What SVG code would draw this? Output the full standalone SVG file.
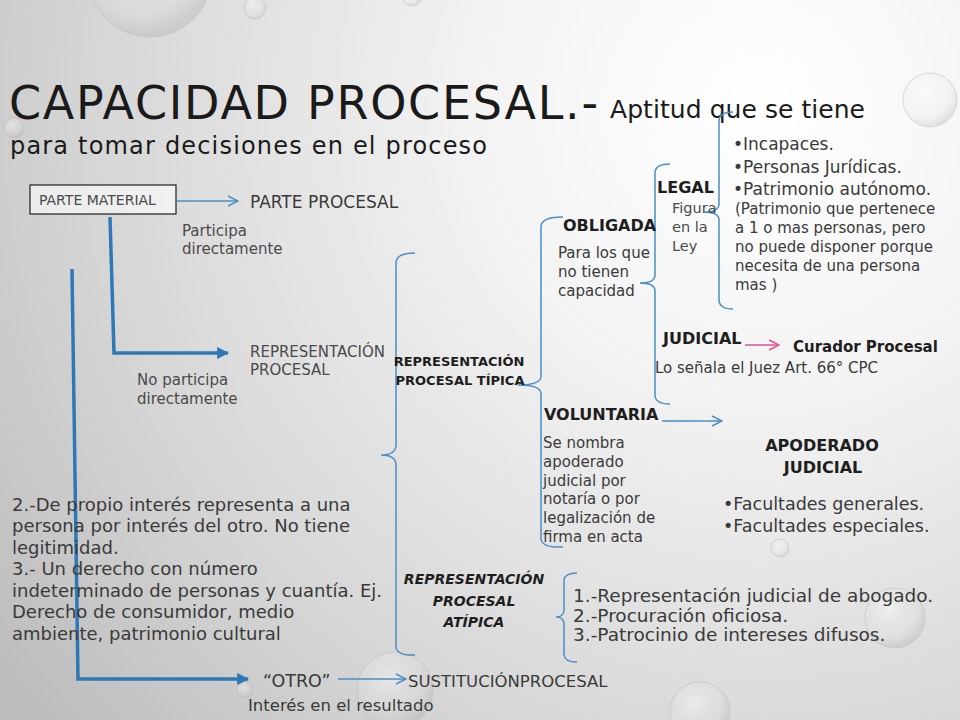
<svg xmlns="http://www.w3.org/2000/svg" width="960" height="720" viewBox="0 0 960 720">
<defs>
  <radialGradient id="bg" gradientUnits="userSpaceOnUse" cx="760" cy="110" r="950">
    <stop offset="0" stop-color="#ffffff"/>
    <stop offset="0.3" stop-color="#f3f3f3"/>
    <stop offset="0.7" stop-color="#d6d6d6"/>
    <stop offset="1" stop-color="#bcbcbc"/>
  </radialGradient>
  <radialGradient id="drop" cx="0.4" cy="0.35" r="0.65">
    <stop offset="0" stop-color="#ffffff" stop-opacity="0.8"/>
    <stop offset="0.7" stop-color="#e6e6e6" stop-opacity="0.35"/>
    <stop offset="1" stop-color="#9a9a9a" stop-opacity="0.45"/>
  </radialGradient>
  <marker id="open" viewBox="0 0 12 12" refX="11" refY="6" markerWidth="12" markerHeight="12" markerUnits="userSpaceOnUse" orient="auto">
    <path d="M1,1 L11,6 L1,11" fill="none" stroke="#4a8fc6" stroke-width="1.4"/>
  </marker>
  <marker id="openpink" viewBox="0 0 12 12" refX="11" refY="6" markerWidth="12" markerHeight="12" markerUnits="userSpaceOnUse" orient="auto">
    <path d="M1,1 L11,6 L1,11" fill="none" stroke="#e5508c" stroke-width="1.4"/>
  </marker>
  <marker id="solid" viewBox="0 0 10 10" refX="9" refY="5" markerWidth="12" markerHeight="12" markerUnits="userSpaceOnUse" orient="auto">
    <path d="M0,0 L10,5 L0,10 Z" fill="#2f78b8"/>
  </marker>
</defs>
<style>
  .t { font-family: "DejaVu Sans", "Liberation Sans", sans-serif; fill: #3a3a3a; }
  .g { fill: #4a4a4a; }
  .b { font-family: "DejaVu Sans", "Liberation Sans", sans-serif; font-weight: bold; fill: #1e1e1e; }
  .thick { fill: none; stroke: #2f78b8; stroke-width: 3.5; }
  .thin { fill: none; stroke: #4a8fc6; stroke-width: 1.4; }
  .brace { fill: none; stroke: #4a8fc6; stroke-width: 1.5; }
  .drop { fill: url(#drop); stroke: #bdbdbd; stroke-width: 1; }
</style>
<rect width="960" height="720" fill="url(#bg)"/>
<g id="droplets" opacity="0.55">
  <circle class="drop" cx="150" cy="-25" r="62"/>
  <circle class="drop" cx="255" cy="8" r="11"/>
  <circle class="drop" cx="412" cy="-4" r="10"/>
  <circle class="drop" cx="930" cy="100" r="27"/>
  <circle class="drop" cx="14" cy="128" r="10"/>
  <circle class="drop" cx="395" cy="690" r="38"/>
  <circle class="drop" cx="700" cy="712" r="30"/>
  <circle class="drop" cx="895" cy="618" r="30"/>
  <circle class="drop" cx="780" cy="548" r="9"/>
  <circle class="drop" cx="245" cy="690" r="8"/>
</g>
<g id="title">
  <text class="t" x="9" y="119" font-size="46" textLength="589" style="fill:#1a1a1a">CAPACIDAD PROCESAL.-</text>
  <text class="t" x="610" y="118" font-size="25" textLength="255" style="fill:#1a1a1a">Aptitud que se tiene</text>
  <text class="t" x="10" y="154" font-size="24" textLength="477" style="fill:#1a1a1a">para tomar decisiones en el proceso</text>
</g>
<g id="connectors">
  <line class="thin" x1="177" y1="201" x2="238" y2="201" marker-end="url(#open)"/>
  <polyline class="thick" points="110,217 114,353 228,353" marker-end="url(#solid)"/>
  <polyline class="thick" points="72,269 78,679 248,679" marker-end="url(#solid)"/>
  <line class="thin" x1="338" y1="679" x2="406" y2="679" marker-end="url(#open)"/>
  <line class="thin" x1="662" y1="421" x2="722" y2="421" marker-end="url(#open)"/>
  <line x1="745" y1="345" x2="779" y2="345" stroke="#e5508c" stroke-width="1.4" marker-end="url(#openpink)"/>
  <path class="brace" d="M415,253 Q397,253 396,262 L396,446 Q395,455 381,455 Q395,455 396,464 L396,647 Q397,656 415,655"/>
  <path class="brace" d="M563,217 Q542,217 541,226 L541,377 Q540,385 518,385 Q540,385 541,393 L541,539 Q542,548 563,547"/>
  <path class="brace" d="M670,164 Q656,164 655,172 L655,276 Q654,283 640,283 Q654,283 655,290 L655,396 Q656,404 670,404"/>
  <path class="brace" d="M733,112 Q720,112 719,120 L719,205 Q718,212 703,212 Q718,212 719,219 L719,301 Q720,309 733,309"/>
  <path class="brace" d="M577,573 Q565,573 564,580 L564,611 Q563,617 556,617 Q563,617 564,623 L564,655 Q565,662 577,662"/>
</g>
<g id="parte-material">
  <rect x="30" y="185" width="146" height="29" fill="#ffffff" fill-opacity="0.6" stroke="#1e1e1e" stroke-width="1.2"/>
  <text class="t g" x="39" y="205" font-size="14">PARTE MATERIAL</text>
</g>
<g id="parte-procesal">
  <text class="t" x="250" y="208" font-size="17">PARTE PROCESAL</text>
</g>
<g id="participa">
  <text class="t g" x="182" y="236" font-size="15">Participa</text>
  <text class="t g" x="182" y="254" font-size="15">directamente</text>
</g>
<g id="representacion-procesal">
  <text class="t g" x="250" y="357" font-size="15">REPRESENTACIÓN</text>
  <text class="t g" x="250" y="375" font-size="15">PROCESAL</text>
</g>
<g id="no-participa">
  <text class="t g" x="137" y="385" font-size="15">No participa</text>
  <text class="t g" x="137" y="404" font-size="15">directamente</text>
</g>
<g id="tipica">
  <text class="b" x="459" y="366" font-size="13" text-anchor="middle">REPRESENTACIÓN</text>
  <text class="b" x="460" y="385" font-size="13" text-anchor="middle">PROCESAL TÍPICA</text>
</g>
<g id="atipica">
  <text class="b" x="474" y="584" font-size="14" text-anchor="middle" font-style="italic">REPRESENTACIÓN</text>
  <text class="b" x="474" y="606" font-size="14" text-anchor="middle" font-style="italic">PROCESAL</text>
  <text class="b" x="474" y="627" font-size="14" text-anchor="middle" font-style="italic">ATÍPICA</text>
</g>
<g id="obligada">
  <text class="b" x="563" y="231" font-size="16">OBLIGADA</text>
  <text class="t" x="558" y="258" font-size="15">Para los que</text>
  <text class="t" x="558" y="277" font-size="15">no tienen</text>
  <text class="t" x="558" y="296" font-size="15">capacidad</text>
</g>
<g id="legal">
  <text class="b" x="657" y="193" font-size="16">LEGAL</text>
  <text class="t g" x="672" y="213" font-size="14.5">Figura</text>
  <text class="t g" x="672" y="232" font-size="14.5">en la</text>
  <text class="t g" x="672" y="251" font-size="14.5">Ley</text>
</g>
<g id="legal-items">
  <text class="t" x="733" y="150" font-size="17">•Incapaces.</text>
  <text class="t" x="733" y="173" font-size="17">•Personas Jurídicas.</text>
  <text class="t" x="733" y="195" font-size="17">•Patrimonio autónomo.</text>
  <text class="t" x="735" y="214" font-size="15">(Patrimonio que pertenece</text>
  <text class="t" x="735" y="233" font-size="15">a 1 o mas personas, pero</text>
  <text class="t" x="735" y="252" font-size="15">no puede disponer porque</text>
  <text class="t" x="735" y="271" font-size="15">necesita de una persona</text>
  <text class="t" x="735" y="290" font-size="15">mas )</text>
</g>
<g id="judicial">
  <text class="b" x="663" y="344" font-size="16">JUDICIAL</text>
  <text class="t" x="655" y="373" font-size="15">Lo señala el Juez Art. 66° CPC</text>
</g>
<g id="curador">
  <text class="b" x="793" y="352" font-size="15">Curador Procesal</text>
</g>
<g id="voluntaria">
  <text class="b" x="544" y="420" font-size="16">VOLUNTARIA</text>
  <text class="t" x="543" y="448" font-size="15">Se nombra</text>
  <text class="t" x="543" y="467" font-size="15">apoderado</text>
  <text class="t" x="543" y="486" font-size="15">judicial por</text>
  <text class="t" x="543" y="504" font-size="15">notaría o por</text>
  <text class="t" x="543" y="523" font-size="15">legalización de</text>
  <text class="t" x="543" y="542" font-size="15">firma en acta</text>
</g>
<g id="apoderado">
  <text class="b" x="822" y="451" font-size="16" text-anchor="middle">APODERADO</text>
  <text class="b" x="823" y="473" font-size="16" text-anchor="middle">JUDICIAL</text>
  <text class="t" x="723" y="510" font-size="17.5">•Facultades generales.</text>
  <text class="t" x="723" y="532" font-size="17.5">•Facultades especiales.</text>
</g>
<g id="atipica-items">
  <text class="t" x="573" y="602" font-size="18.5">1.-Representación judicial de abogado.</text>
  <text class="t" x="573" y="622" font-size="18.5">2.-Procuración oficiosa.</text>
  <text class="t" x="573" y="641" font-size="18.5">3.-Patrocinio de intereses difusos.</text>
</g>
<g id="explicacion">
  <text class="t" x="12" y="511" font-size="18">2.-De propio interés representa a una</text>
  <text class="t" x="12" y="532" font-size="18">persona por interés del otro. No tiene</text>
  <text class="t" x="12" y="554" font-size="18">legitimidad.</text>
  <text class="t" x="12" y="575" font-size="18">3.- Un derecho con número</text>
  <text class="t" x="12" y="597" font-size="18">indeterminado de personas y cuantía. Ej.</text>
  <text class="t" x="12" y="618" font-size="18">Derecho de consumidor, medio</text>
  <text class="t" x="12" y="640" font-size="18">ambiente, patrimonio cultural</text>
</g>
<g id="otro">
  <text class="t" x="263" y="687" font-size="17.5">“OTRO”</text>
  <text class="t" x="248" y="711" font-size="16.5">Interés en el resultado</text>
</g>
<g id="sustitucion">
  <text class="t" x="408" y="687" font-size="16.5">SUSTITUCIÓNPROCESAL</text>
</g>
</svg>
